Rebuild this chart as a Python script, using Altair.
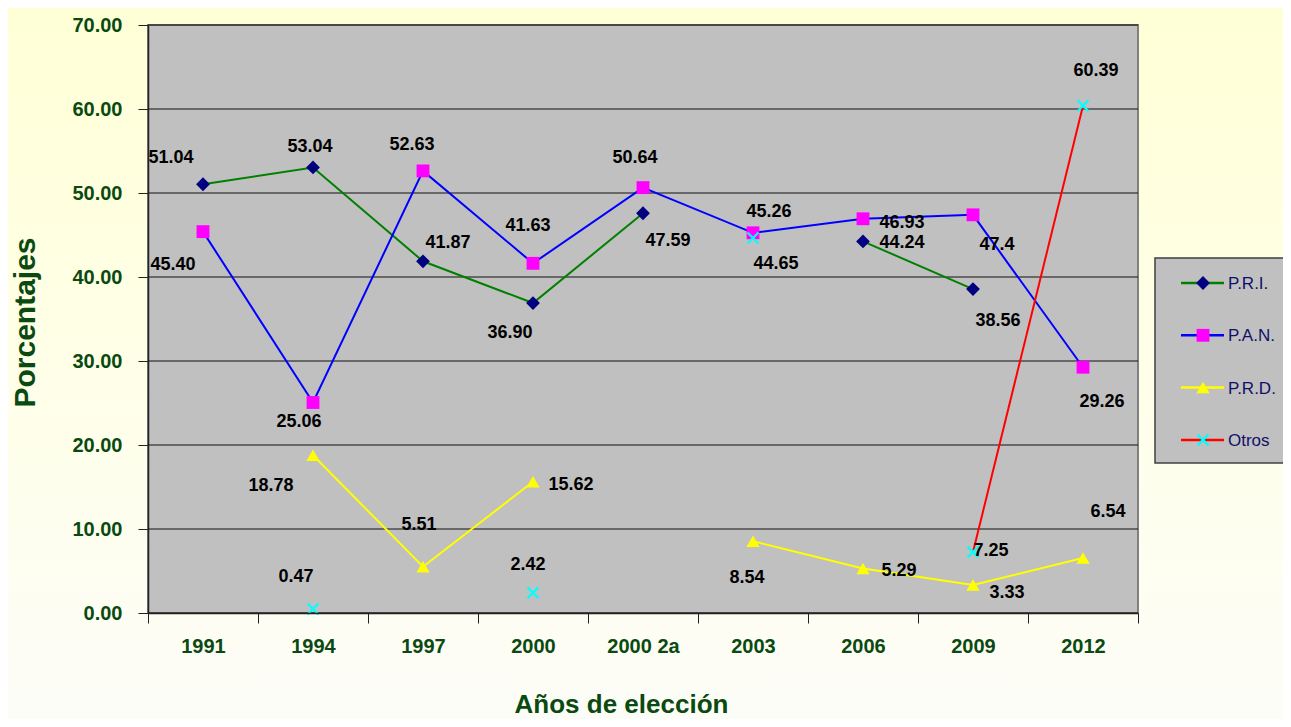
import altair as alt
import pandas as pd

years = ["1991", "1994", "1997", "2000", "2000 2a", "2003", "2006", "2009", "2012"]
series = ["P.R.I.", "P.A.N.", "P.R.D.", "Otros"]

pri = [51.04, 53.04, 41.87, 36.90, 47.59, None, 44.24, 38.56, None]
pan = [45.40, 25.06, 52.63, 41.63, 50.64, 45.26, 46.93, 47.4, 29.26]
prd = [None, 18.78, 5.51, 15.62, None, 8.54, 5.29, 3.33, 6.54]
otros = [None, 0.47, None, 2.42, None, 44.65, None, 7.25, 60.39]

pri_labels = ["51.04", "53.04", "41.87", "36.90", "47.59", "", "44.24", "38.56", ""]
pan_labels = ["45.40", "25.06", "52.63", "41.63", "50.64", "45.26", "46.93", "47.4", "29.26"]
prd_labels = ["", "18.78", "5.51", "15.62", "", "8.54", "5.29", "3.33", "6.54"]
otros_labels = ["", "0.47", "", "2.42", "", "44.65", "", "7.25", "60.39"]

# label offsets (pixels) relative to each marker
pri_dx = [-32, -3, 25, -23, 25, 0, 39, 25, 0]
pri_dy = [-26, -20, -18, 30, 28, 0, 2, 32, 0]
pan_dx = [-30, -14, -11, -5, -8, 16, 39, 24, 19]
pan_dy = [33, 20, -26, -37, -30, -21, 4, 30, 35]
prd_dx = [0, -42, -4, 38, 0, -6, 36, 34, 25]
prd_dy = [0, 31, -42, 3, 0, 37, 2, 8, -46]
otros_dx = [0, -17, 0, -5, 0, 23, 0, 18, 13]
otros_dy = [0, -32, 0, -28, 0, 26, 0, -1, -35]

y_ticks = [0, 10, 20, 30, 40, 50, 60, 70]

line_colors = ["#008000", "#0000FF", "#FFFF00", "#FF0000"]
marker_colors = ["#000080", "#FF00FF", "#FFFF00", "#00FFFF"]
X_PATH = "M-1,-1L1,1M1,-1L-1,1"
shapes = ["diamond", "square", "triangle-up", X_PATH]
sizes = [190, 165, 175, 120]

FONT = "Liberation Sans, Arial, sans-serif"
GREEN = "#0A4A10"

W, H = 990, 588

rows = []
for s, vals, labs, dxs, dys in [
    ("P.R.I.", pri, pri_labels, pri_dx, pri_dy),
    ("P.A.N.", pan, pan_labels, pan_dx, pan_dy),
    ("P.R.D.", prd, prd_labels, prd_dx, prd_dy),
    ("Otros", otros, otros_labels, otros_dx, otros_dy),
]:
    for yr, v, lab, dx, dy in zip(years, vals, labs, dxs, dys):
        rows.append({"serie": s, "year": yr, "value": v, "label": lab, "dx": dx, "dy": dy})
df = pd.DataFrame(rows)

x_axis = alt.Axis(
    labelAngle=0, tickBand="extent", tickSize=10, tickColor="#222222",
    domainColor="#222222", domainWidth=1.5, labelPadding=13,
    labelFont=FONT, labelFontSize=20, labelFontWeight="bold", labelColor=GREEN,
    title="Años de elección", titleFont=FONT, titleFontSize=26, titleFontWeight="bold",
    titleColor=GREEN, titleX=473, titleY=99, titleBaseline="alphabetic",
    titleAlign="center", grid=False, zindex=1,
)
y_axis = alt.Axis(
    values=y_ticks, format=".2f", tickSize=10, tickColor="#222222",
    domainColor="#222222", domainWidth=1.5, labelPadding=16,
    labelFont=FONT, labelFontSize=20, labelFontWeight="bold", labelColor=GREEN,
    title="Porcentajes", titleFont=FONT, titleFontSize=30, titleFontWeight="bold",
    titleColor=GREEN, titleAngle=270, titleX=-123, titleY=297,
    titleAlign="center", titleBaseline="middle", grid=False, zindex=1,
)
x_scale = alt.Scale(domain=years, paddingInner=0, paddingOuter=0)
y_scale = alt.Scale(domain=[0, 70], nice=False, zero=True)

bg_gradient = alt.Gradient(
    gradient="linear",
    stops=[alt.GradientStop(color="#FFFFD6", offset=0),
           alt.GradientStop(color="#FFFFE8", offset=0.5),
           alt.GradientStop(color="#FDFDF8", offset=1)],
    x1=0, x2=0, y1=0, y2=1,
)
base_dummy = pd.DataFrame({"k": [0]})

background = alt.Chart(base_dummy).mark_rect(color=bg_gradient).encode(
    x=alt.value(-140), x2=alt.value(W + 145), y=alt.value(-17), y2=alt.value(H + 106)
)
plot_area = alt.Chart(base_dummy).mark_rect(
    fill="#C0C0C0", stroke="#808080", strokeWidth=2
).encode(x=alt.value(0), x2=alt.value(W), y=alt.value(0), y2=alt.value(H))

grid = alt.Chart(pd.DataFrame({"tick": y_ticks})).mark_rule(color="#111111", strokeWidth=1).encode(
    x=alt.value(0), x2=alt.value(W),
    y=alt.Y("tick:Q", scale=y_scale, axis=y_axis),
)

color_scale = alt.Scale(domain=series, range=line_colors)

lines = alt.Chart(df).mark_line(strokeWidth=2).encode(
    x=alt.X("year:N", sort=years, scale=x_scale, axis=x_axis),
    y=alt.Y("value:Q", scale=y_scale, axis=y_axis),
    color=alt.Color("serie:N", scale=color_scale, legend=None),
    detail="serie:N",
)

point_layers = []
for s, mc, shp, sz in zip(series, marker_colors, shapes, sizes):
    base = alt.Chart(df).transform_filter(
        (alt.datum.serie == s) & alt.expr.isValid(alt.datum.value)
    )
    if shp == X_PATH:
        pm = base.mark_point(shape=shp, filled=False, stroke=mc, strokeWidth=2.2, size=sz, opacity=1)
    else:
        pm = base.mark_point(shape=shp, filled=True, fill=mc, color=mc, size=sz, opacity=1)
    point_layers.append(pm.encode(x=alt.X("year:N", sort=years), y=alt.Y("value:Q")))

label_layers = []
for r in df.itertuples():
    if r.label == "":
        continue
    label_layers.append(
        alt.Chart(df).transform_filter(
            (alt.datum.serie == r.serie) & (alt.datum.year == r.year)
        ).mark_text(
            font=FONT, fontSize=18, fontWeight="bold", color="#000000",
            align="center", baseline="middle", dx=int(r.dx), dy=int(r.dy),
        ).encode(
            x=alt.X("year:N", sort=years),
            y=alt.Y("value:Q"),
            text="label:N",
        )
    )

# legend panel (drawn to the right of the plot area)
LX = W + 17
legend_layers = [
    alt.Chart(base_dummy).mark_rect(fill="#C0C0C0", stroke="#404040", strokeWidth=1.5).encode(
        x=alt.value(LX), x2=alt.value(LX + 160), y=alt.value(233), y2=alt.value(438)
    )
]
for i, (s, lc, mc, shp, sz) in enumerate(zip(series, line_colors, marker_colors, shapes, sizes)):
    yy = 258 + 52.3 * i
    d = pd.DataFrame({"serie": [s]})
    legend_layers.append(
        alt.Chart(d).mark_rule(color=lc, strokeWidth=2.5).encode(
            x=alt.value(LX + 26), x2=alt.value(LX + 69), y=alt.value(yy)
        )
    )
    if shp == X_PATH:
        pm = alt.Chart(d).mark_point(shape=shp, filled=False, stroke=mc, strokeWidth=2.2, size=sz, opacity=1)
    else:
        pm = alt.Chart(d).mark_point(shape=shp, filled=True, fill=mc, color=mc, size=sz, opacity=1)
    legend_layers.append(pm.encode(x=alt.value(LX + 48), y=alt.value(yy)))
    legend_layers.append(
        alt.Chart(d).mark_text(
            font=FONT, fontSize=17, color="#10106A", align="left", baseline="middle"
        ).encode(x=alt.value(LX + 73), y=alt.value(yy + 1), text="serie:N")
    )

chart = alt.layer(
    background, plot_area, grid, lines, *point_layers, *label_layers, *legend_layers
).properties(
    width=W, height=H,
    autosize=alt.AutoSizeParams(type="none"),
    padding={"left": 140, "top": 17, "right": 145, "bottom": 106},
).configure_view(stroke=None, fill=None).configure(background="#FFFFE6")

chart.save("out.html", embed_options={"renderer": "svg", "actions": False})
